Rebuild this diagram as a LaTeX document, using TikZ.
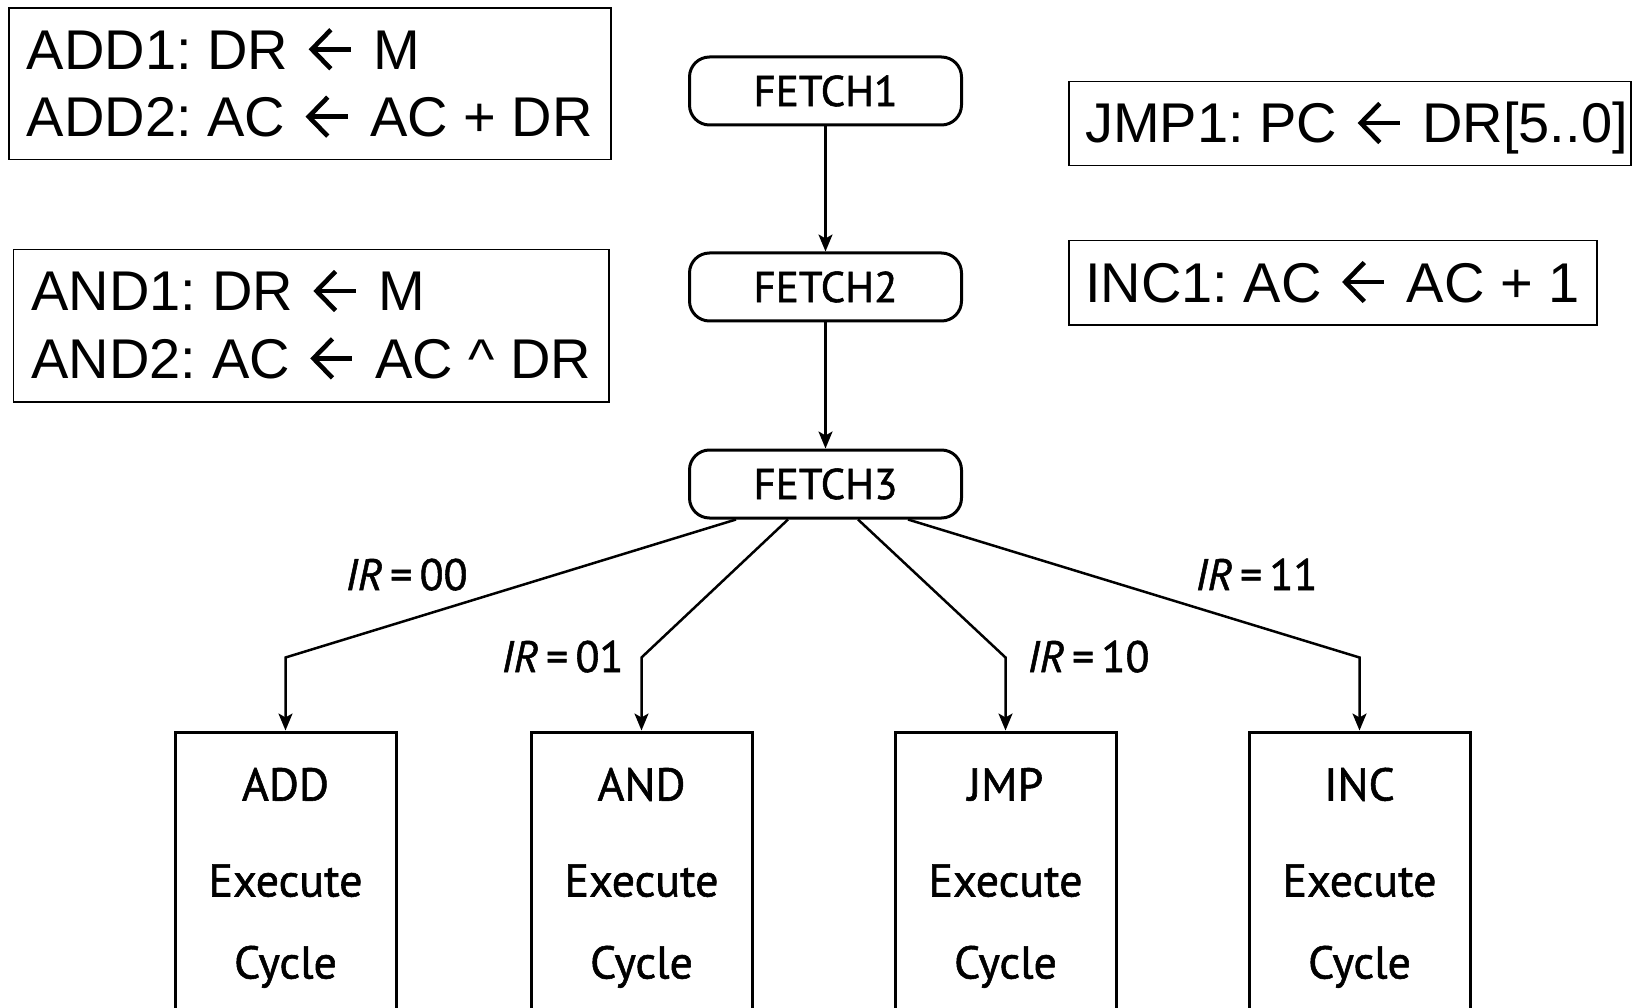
\documentclass[tikz,border=0pt]{standalone}
\usepackage{fontspec}
\setmainfont{PT Sans}[FakeBold=1.2]
\newfontfamily\arialf{Liberation Sans}
\usetikzlibrary{arrows.meta,calc}
% heavy open-headed assignment arrow, as tall as a capital letter
\newcommand\getsarrow{\tikz[baseline=0pt,x=1pt,y=1pt]{%
  \useasboundingbox (0,0) rectangle (54,40);
  \draw[line width=4.6pt,line cap=butt,line join=miter] (27,39.5) -- (8,20) -- (27,0.5);
  \draw[line width=4.6pt,line cap=butt] (9,20) -- (47,20);}}
\begin{document}
\frenchspacing
\begin{tikzpicture}[x=1pt,y=-1pt,
  regbox/.style={draw,line width=1.5pt,anchor=north west,inner sep=0pt},
  regtext/.style={anchor=base west,inner sep=0pt,font=\arialf\fontsize{56}{67}\selectfont},
  fetchbox/.style={draw,line width=3pt,rounded corners=20pt,minimum width=272pt,
    minimum height=68pt,inner sep=0pt,font=\fontsize{43}{50}\selectfont},
  execbox/.style={draw,line width=3pt,minimum width=221pt,minimum height=400pt,
    anchor=north,inner sep=0pt},
  exectext/.style={anchor=base,inner sep=0pt,font=\fontsize{46}{50}\selectfont},
  cond/.style={anchor=base,inner sep=0pt,font=\fontsize{44}{50}\selectfont},
  arr/.style={line width=2.5pt,-{Stealth[length=17pt,width=14pt,inset=4pt]}}
]
\clip (0,0) rectangle (1641,1008);
\fill[white] (0,0) rectangle (1641,1008);

% register transfer boxes
\node[regbox,minimum width=601.7pt,minimum height=151.7pt] (addbox) at (8.3,7.3) {};
\node[regtext] (add1) at (26.7,69.3) {ADD1: DR \getsarrow{} M};
\node[regtext] (add2) at (26.7,136.7) {ADD2: AC \getsarrow{} AC + DR};

\node[regbox,minimum width=595.4pt,minimum height=152pt] (andbox) at (12.6,249) {};
\node[regtext] (and1) at (31.4,311) {AND1: DR \getsarrow{} M};
\node[regtext] (and2) at (31.4,378.4) {AND2: AC \getsarrow{} AC \textasciicircum{} DR};

\node[regbox,minimum width=561.7pt,minimum height=84pt] (jmpbox) at (1068.3,81) {};
\node[regtext] (jmp1) at (1085,143) {JMP1: PC \getsarrow{} DR[5..0]};

\node[regbox,minimum width=527.7pt,minimum height=84pt] (incbox) at (1068.3,240) {};
\node[regtext] (inc1) at (1085,302) {INC1: AC \getsarrow{} AC + 1};

% fetch states
\node[fetchbox] (f1) at (825.5,91) {FETCH1};
\node[fetchbox] (f2) at (825.5,287) {FETCH2};
\node[fetchbox] (f3) at (825.5,484) {FETCH3};

\draw[arr] (f1) -- (f2);
\draw[arr] (f2) -- (f3);

% execute cycles
\node[execbox] (addx) at (285.5,730.5) {};
\node[execbox] (andx) at (641.5,730.5) {};
\node[execbox] (jmpx) at (1005.5,730.5) {};
\node[execbox] (incx) at (1359.5,730.5) {};

\foreach \b/\t in {addx/ADD,andx/AND,jmpx/JMP,incx/INC}{
  \node[exectext] (\b-name) at ($(\b.north)+(0,70)$) {\t};
  \node[exectext] (\b-exec) at ($(\b.north)+(0,166)$) {Execute};
  \node[exectext] (\b-cyc) at ($(\b.north)+(0,248)$) {Cycle};
}

% decode branches
\draw[arr] ($(f3.south)+(-89.5,0)$) -- ($(addx.north)+(0,-73)$) -- (addx.north);
\draw[arr] ($(f3.south)+(-37.5,0)$) -- ($(andx.north)+(0,-73)$) -- (andx.north);
\draw[arr] ($(f3.south)+(32.5,0)$) -- ($(jmpx.north)+(0,-73)$) -- (jmpx.north);
\draw[arr] ($(f3.south)+(82.5,0)$) -- ($(incx.north)+(0,-73)$) -- (incx.north);

\node[cond] (c00) at (406.6,590) {\textit{IR}\,=\,00};
\node[cond] (c01) at (562.5,672) {\textit{IR}\,=\,01};
\node[cond] (c10) at (1088.5,672) {\textit{IR}\,=\,10};
\node[cond] (c11) at (1256.5,590) {\textit{IR}\,=\,11};
\end{tikzpicture}
\end{document}
